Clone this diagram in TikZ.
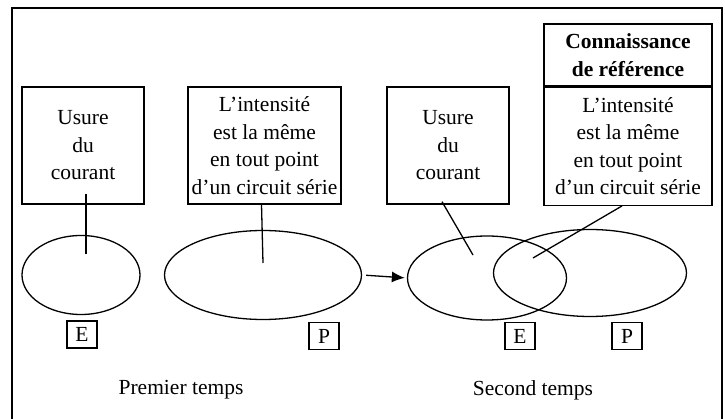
\documentclass[tikz,border=0pt]{standalone}
\usepackage{fontspec}
\setmainfont{Liberation Serif}
\usetikzlibrary{shapes.geometric,positioning,arrows.meta}
\newcommand\mysize{\fontsize{21.5}{27.5}\selectfont}
\begin{document}
\begin{tikzpicture}[x=1pt,y=-1pt,font=\mysize] % координаты в точках, ось y вниз
\tikzstyle{mybox} = [draw, line width=1.3pt, align=center, inner sep=0pt] % прямоугольник с текстом
\tikzstyle{myell} = [draw, ellipse, line width=1.3pt, inner sep=0pt] % множество
\tikzstyle{mytag} = [draw, line width=1.3pt, minimum width=30pt, minimum height=27pt, inner sep=0pt] % метка E / P
\tikzstyle{mylink} = [line width=1.3pt] % соединительная линия

\useasboundingbox (0,0) rectangle (725,419);
\draw[line width=1.5pt] (12,419) -- (12,8) -- (722,8) -- (722,419); % рамка

% первый этап
\node[mybox, minimum width=122pt, minimum height=117pt] (u1) at (83,145.5) {Usure\\du\\courant};
\node[mybox, minimum width=153pt, minimum height=117pt] (i1) at (264.5,145.5) {L’intensité\\est la même\\en tout point\\d’un circuit série};
\node[myell, minimum width=118pt, minimum height=79pt] (e1) at (81,275) {};
\node[myell, minimum width=197pt, minimum height=89pt] (p1) at (263,275) {};
\node[mytag] (te1) at (82,334.5) {E};
\node[mytag] (tp1) at (324,336) {P};
\node (t1) at (181,390) {Premier temps};
\coordinate (ce1) at (86,254);
\coordinate (cp1) at (263,263);
\draw[mylink] ([xshift=3pt,yshift=11pt]u1.south) -- (ce1);
\draw[mylink] ([xshift=-3pt]i1.south) -- (cp1);

% второй этап
\node[mybox, minimum width=122pt, minimum height=117pt] (u2) at (448,145.5) {Usure\\du\\courant};
\node[mybox, minimum width=168pt, minimum height=62pt, font=\mysize\bfseries] (ref) at (628,55) {Connaissance\\de référence};
\node[mybox, minimum width=168pt, minimum height=118pt, below=0pt of ref] (i2) {L’intensité\\est la même\\en tout point\\d’un circuit série};
\node[myell, minimum width=159pt, minimum height=84pt] (e2) at (487,278) {};
\node[myell, minimum width=193pt, minimum height=87pt] (p2) at (590,273) {};
\node[mytag] (te2) at (520,336) {E};
\node[mytag] (tp2) at (627,336) {P};
\node (t2) at (533,390) {Second temps};
\coordinate (ce2) at (473,255);
\coordinate (cp2) at (533,258);
\draw[mylink] ([xshift=-6pt,yshift=3pt]u2.south) -- (ce2);
\draw[mylink] ([xshift=-6pt]i2.south) -- (cp2);

% переход
\draw[mylink, -{Latex[length=13pt,width=11pt]}, shorten <=4pt, shorten >=2pt] (p1.east) -- (e2.west);
\end{tikzpicture}
\end{document}
